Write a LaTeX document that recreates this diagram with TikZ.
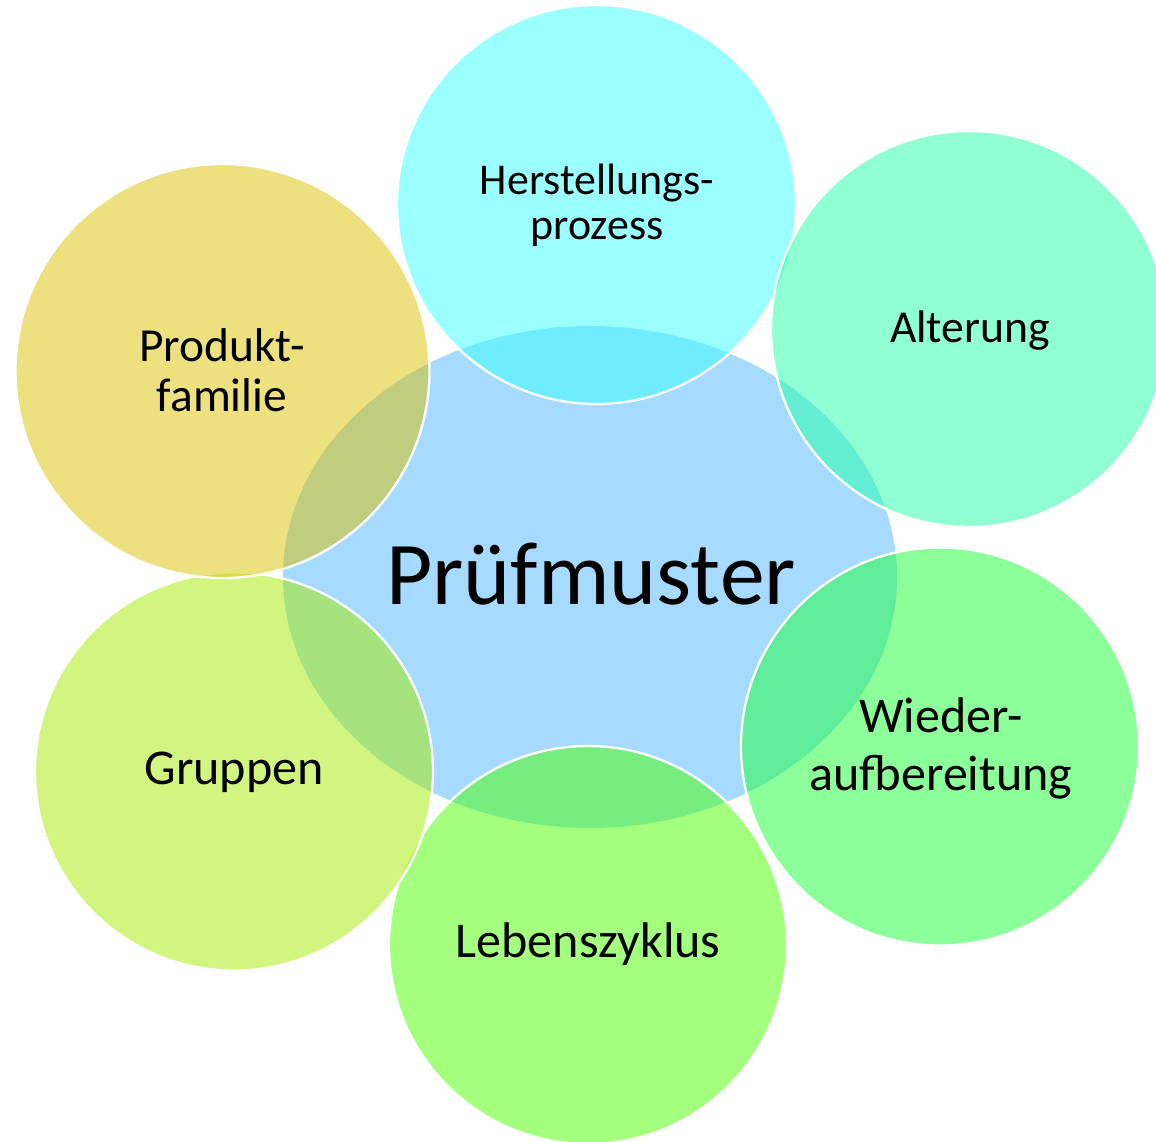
\documentclass[tikz,border=0pt]{standalone}
\usepackage{fontspec}
\setmainfont{Carlito}
\usepackage{tikz}
\definecolor{middleblue}{RGB}{166,219,255}
\definecolor{herstcol}{RGB}{57,255,255}
\definecolor{altercol}{RGB}{33,255,169}
\definecolor{wiedercol}{RGB}{25,255,53}
\definecolor{lebencol}{RGB}{73,255,0}
\definecolor{gruppcol}{RGB}{165,235,0}
\definecolor{produkcol}{RGB}{219,193,0}
\tikzset{
bubble/.style={draw=white, line width=1.3pt, fill opacity=0.5}, % the six circles lie half see-through over the middle
bubbletext/.style={font=\fontsize{28.5}{33}\selectfont} % text in a circle
}

\begin{document}
\begin{tikzpicture}[x=0.02cm, y=0.02cm]
        \tikzstyle{every node}+=[inner sep=0pt, align=center]
        \useasboundingbox (0,0) rectangle (1156,-1142);
        \fill [middleblue] (590,-577) ellipse (307 and 251);
        \draw [bubble, fill=herstcol] (596.5,-204.5) circle (199.5);
        \draw [bubble, fill=altercol] (969,-329) circle (198);
        \draw [bubble, fill=wiedercol] (940,-746.5) circle (199);
        \draw [bubble, fill=lebencol] (588,-945) circle (199);
        \draw [bubble, fill=gruppcol] (234,-771.5) circle (199);
        \draw [bubble, fill=produkcol] (222.5,-371) circle (207);
        \node (pruef) at (591,-574) {\fontsize{51}{55}\selectfont Prüfmuster};
        \node [bubbletext, font=\fontsize{25}{25.5}\selectfont] (herst) at (597,-205) {Herstellungs-\\prozess};
        \node [bubbletext, font=\fontsize{26}{30}\selectfont] (alter) at (970,-331) {Alterung};
        \node [bubbletext] (wieder) at (941,-748) {Wieder-\\aufbereitung};
        \node [bubbletext] (leben) at (588,-944) {Lebenszyklus};
        \node [bubbletext] (grupp) at (234,-772) {Gruppen};
        \node [bubbletext, font=\fontsize{27}{28.5}\selectfont] (produk) at (222,-370) {Produkt-\\familie};
\end{tikzpicture}
\end{document}
